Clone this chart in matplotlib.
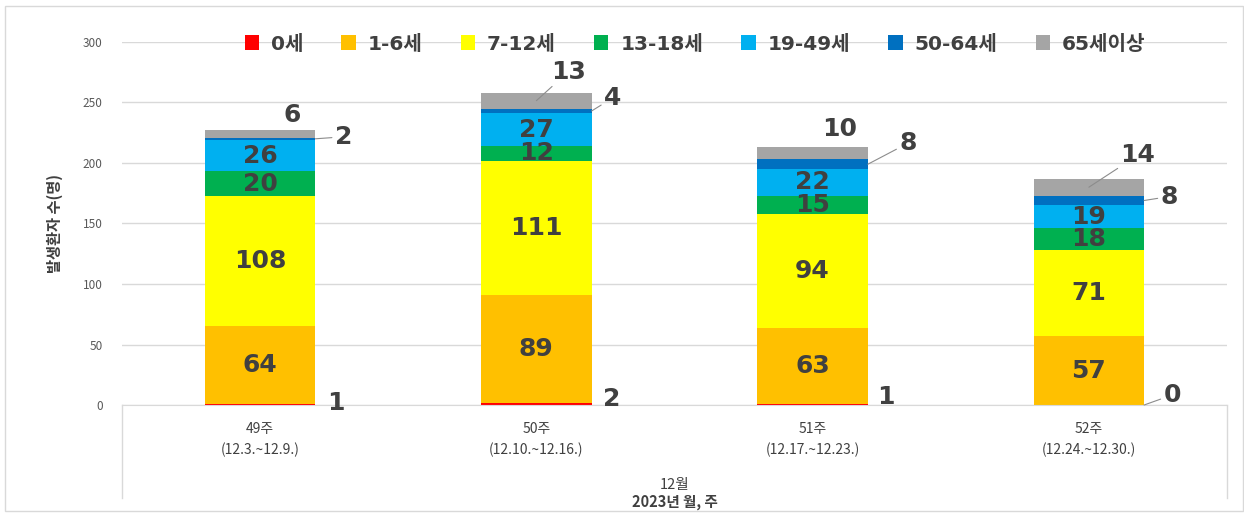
import numpy as np
import matplotlib.pyplot as plt
from matplotlib.patches import Rectangle

plt.rcParams['font.family'] = ['Noto Sans CJK KR', 'DejaVu Sans']
wide = ['DejaVu Sans', 'Noto Sans CJK KR']

# weekly cases by age group
weeks = ['49주\n(12.3.~12.9.)', '50주\n(12.10.~12.16.)', '51주\n(12.17.~12.23.)', '52주\n(12.24.~12.30.)']
groups = ['0세', '1-6세', '7-12세', '13-18세', '19-49세', '50-64세', '65세이상']
age_0 = [1, 2, 1, 0]
age_1_6 = [64, 89, 63, 57]
age_7_12 = [108, 111, 94, 71]
age_13_18 = [20, 12, 15, 18]
age_19_49 = [26, 27, 22, 19]
age_50_64 = [2, 4, 8, 8]
age_65 = [6, 13, 10, 14]
yticks = [0, 50, 100, 150, 200, 250, 300]

series = [age_0, age_1_6, age_7_12, age_13_18, age_19_49, age_50_64, age_65]
colors = ['#FF0000', '#FFC000', '#FFFF00', '#00B050', '#00B0F0', '#0070C0', '#A5A5A5']
inside = [False, True, True, True, True, False, False]

# label offsets (pixels) for the small segments: (anchor, dx, dy, leader line)
# anchor 'c' = bar centre, 'r' = bar right edge
outside_pos = {
    0: [('r', 21, 1, False), ('r', 20, 5, False), ('r', 18, 7, False), ('r', 28, 10, True)],
    5: [('r', 28, 2, True), ('r', 21, 13, True), ('r', 40, 21, True), ('r', 25, 4, True)],
    6: [('c', 32, 19, False), ('c', 32, 29, True), ('c', 27, 24, False), ('c', 49, 32, True)],
}

fig = plt.figure(figsize=(12.44, 5.13), dpi=100)
ax = fig.add_axes([122 / 1244, 108 / 513, 1105 / 1244, 363 / 513])

x = np.arange(len(weeks))
width = 0.4
text_color = '#404040'
bottom = np.zeros(len(weeks))
for k, vals in enumerate(series):
    vals = np.array(vals, float)
    ax.bar(x, vals, width, bottom=bottom, color=colors[k], label=groups[k], zorder=2)
    for i in range(len(weeks)):
        mid = bottom[i] + vals[i] / 2
        if inside[k]:
            ax.text(x[i], mid, str(int(vals[i])), ha='center', va='center',
                    fontsize=18, fontweight='bold', color=text_color, zorder=3,
                    family=wide)
        else:
            anchor, dx, dy, leader = outside_pos[k][i]
            px = x[i] + (width / 2 if anchor == 'r' else 0)
            arrow = dict(arrowstyle='-', color='#8C8C8C', lw=0.8,
                         shrinkA=0, shrinkB=0) if leader else None
            ax.annotate(str(int(vals[i])), xy=(px, mid), xytext=(dx, dy),
                        textcoords='offset pixels', ha='center', va='center',
                        fontsize=18, fontweight='bold', color=text_color,
                        family=wide, arrowprops=arrow, zorder=3,
                        annotation_clip=False)
    bottom += vals

ax.set_xlim(-0.5, 3.5)
ax.set_ylim(0, 300)
ax.set_yticks(yticks)
ax.tick_params(axis='y', length=0, labelsize=8.5, labelcolor='#595959', pad=14)
ax.set_xticks(x)
ax.set_xticklabels(weeks, fontsize=10, color=text_color, linespacing=1.6)
ax.tick_params(axis='x', length=0, pad=12)
ax.grid(axis='y', color='#D9D9D9', lw=1, zorder=0)
for s in ['top', 'right', 'left']:
    ax.spines[s].set_visible(False)
ax.spines['bottom'].set_color('#D9D9D9')

# outer borders of the category axis
for xa in [0, 1]:
    ax.plot([xa, xa], [0, -0.256], transform=ax.transAxes, color='#D9D9D9',
            lw=1, clip_on=False)

ax.set_ylabel('발생환자 수(명)', fontsize=11, fontweight='bold', color=text_color, labelpad=14)
fig.text(674.5 / 1244, 1 - 485 / 513, '12월', ha='center', va='center',
         fontsize=10.5, color=text_color)
fig.text(674.5 / 1244, 1 - 502 / 513, '2023년 월, 주', ha='center', va='center',
         fontsize=10.5, fontweight='bold', color=text_color)

leg = fig.legend(loc='center', bbox_to_anchor=(695 / 1244, 1 - 44 / 513), ncol=7,
                 frameon=False, prop={'family': wide, 'size': 14.5, 'weight': 'bold'},
                 handlelength=0.7, handleheight=0.7, handletextpad=0.6,
                 columnspacing=1.9)
for t in leg.get_texts():
    t.set_color(text_color)

fig.patches.append(Rectangle((5 / 1244, 2 / 513), 1238 / 1244, 505 / 513,
                             transform=fig.transFigure, fill=False,
                             edgecolor='#D9D9D9', lw=1))

fig.savefig('out.png', dpi=100)
